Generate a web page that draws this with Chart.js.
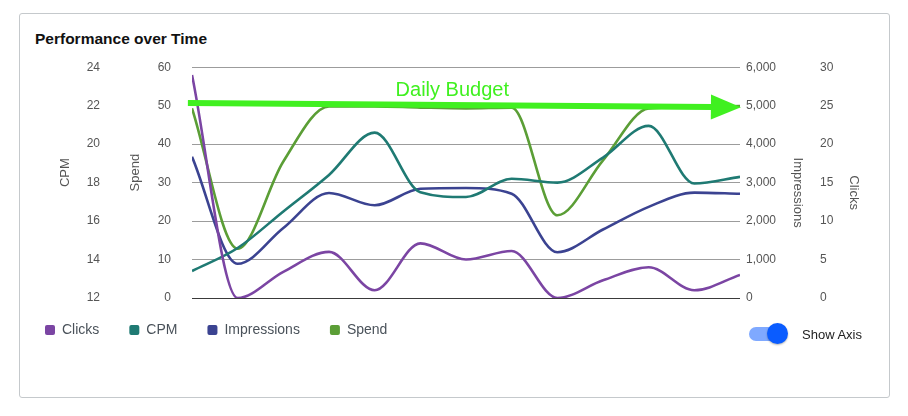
<!DOCTYPE html>
<html><head><meta charset="utf-8">
<script src="https://cdn.jsdelivr.net/npm/chart.js@4.4.1/dist/chart.umd.min.js"></script>
<style>
html,body{margin:0;padding:0;background:#fff;width:908px;height:416px;overflow:hidden;font-family:"Liberation Sans",Arial,sans-serif;}
#card{position:absolute;left:19px;top:13px;border:1px solid #c5c9cc;border-radius:3px;box-sizing:border-box;width:871px;height:385px;}
#title{position:absolute;left:35px;top:29px;font-weight:bold;font-size:15.5px;color:#111;line-height:20px;white-space:nowrap;}
#wrap{position:absolute;left:15px;top:39px;width:865px;height:313px;}
#track{position:absolute;left:749px;top:327px;width:36px;height:14px;border-radius:7px;background:#7fa9ff;}
#knob{position:absolute;left:767px;top:323px;width:21px;height:21px;border-radius:50%;background:#0a5cff;box-shadow:0 1px 2px rgba(0,0,0,0.3);}
#tlabel{position:absolute;left:802px;top:327px;font-size:13px;line-height:16px;color:#222;white-space:nowrap;}
</style></head>
<body>
<div id="card"></div>
<div id="title">Performance over Time</div>
<div id="wrap"><canvas id="c"></canvas></div>
<div id="track"></div><div id="knob"></div>
<div id="tlabel">Show Axis</div>
<script>
const days = [15.5,16.5,17.5,18.5,19.5,20.5,21.5,22.5,23.5,24.5,25.5,26.5,27.5];
const tickDays = [18,21,24,27];
const tickLabels = ['Aug 18','Aug 21','Aug 24','Aug 27'];
const clicks = [29,0,3.4,6,1,7.1,5,6.1,0,2.3,4,1,3];
const cpm = [13.4,14.6,16.5,18.4,20.6,17.5,17.25,18.2,18.0,19.3,20.95,17.95,18.3];
const impressions = [3670,890,1820,2730,2410,2840,2860,2710,1190,1780,2370,2740,2710];
const spend = [49.3,12.8,35.5,49.8,49.8,49.5,49.3,49.5,21.5,35.8,49.3,49.7,49.9];
const budgetX = [15.41,27.52];
const budgetY = [50.7,49.6];
const budgetText = 'Daily Budget';
const budgetTextPos = [21.2,52.6];

const seriesNames = ['Clicks','CPM','Impressions','Spend'];
const seriesColors = ['#7b45a3','#1f7a73','#3b4391','#5b9e36'];
const seriesAxes = ['clicks','cpm','impressions','spend'];
const seriesData = [clicks,cpm,impressions,spend];

Chart.defaults.font.family = "'Liberation Sans', Arial, sans-serif";
Chart.defaults.font.size = 12;
Chart.defaults.color = '#555';

const titleShift = {cpm:-10, spend:-10, impressions:10, clicks:10};

const budgetPlugin = {
  id:'budget',
  afterLayout(chart){
    chart.legend.top -= 5; chart.legend.bottom -= 5;
    Object.keys(titleShift).forEach(id=>{
      const s = chart.scales[id];
      if (s && !s._shiftPatched) {
        const orig = s.drawTitle.bind(s);
        s.drawTitle = function(){ const c=this.ctx; c.save(); c.translate(0,titleShift[id]); orig(); c.restore(); };
        s._shiftPatched = true;
      }
    });
  },
  afterDatasetsDraw(chart){
    const xs = chart.scales.x, ys = chart.scales.spend, ctx = chart.ctx;
    const x0 = xs.getPixelForValue(budgetX[0]), y0 = ys.getPixelForValue(budgetY[0]);
    const x1 = xs.getPixelForValue(budgetX[1]), y1 = ys.getPixelForValue(budgetY[1]);
    const ang = Math.atan2(y1-y0, x1-x0);
    const hl = 30, hw = 12.5;
    const bx = x1 - hl*Math.cos(ang), by = y1 - hl*Math.sin(ang);
    ctx.save();
    ctx.strokeStyle = '#40f020'; ctx.fillStyle = '#40f020';
    ctx.lineWidth = 6; ctx.lineCap = 'butt';
    ctx.beginPath(); ctx.moveTo(x0,y0); ctx.lineTo(bx+1,by); ctx.stroke();
    ctx.beginPath();
    ctx.moveTo(x1,y1);
    ctx.lineTo(bx + hw*Math.sin(ang), by - hw*Math.cos(ang));
    ctx.lineTo(bx - hw*Math.sin(ang), by + hw*Math.cos(ang));
    ctx.closePath(); ctx.fill();
    ctx.font = "20px 'Liberation Sans', Arial, sans-serif";
    ctx.textAlign = 'center'; ctx.textBaseline = 'alphabetic';
    ctx.fillText(budgetText, xs.getPixelForValue(budgetTextPos[0]), ys.getPixelForValue(budgetTextPos[1]));
    ctx.restore();
  }
};

const titleFont = {size:13};
new Chart(document.getElementById('c'), {
  type:'line',
  data:{
    datasets: seriesNames.map((n,i)=>({
      label:n,
      data: seriesData[i].map((v,j)=>({x:days[j], y:v})),
      yAxisID: seriesAxes[i],
      borderColor: seriesColors[i],
      backgroundColor: seriesColors[i],
      borderWidth:2.6,
      pointRadius:0,
      pointHoverRadius:0,
      cubicInterpolationMode:'monotone',
      fill:false
    }))
  },
  options:{
    responsive:true, maintainAspectRatio:false, animation:false,
    layout:{padding:{top:7,left:0,right:0,bottom:0}},
    plugins:{
      tooltip:{enabled:false},
      legend:{
        position:'bottom', align:'start',
        labels:{
          font:{size:14}, color:'#4a525a', boxWidth:10, boxHeight:10, padding:30,
          useBorderRadius:true, borderRadius:2,
          generateLabels:(chart)=>Chart.defaults.plugins.legend.labels.generateLabels(chart).map(l=>Object.assign(l,{lineWidth:0,borderRadius:2}))
        }
      }
    },
    scales:{
      x:{
        type:'linear', min:days[0], max:days[days.length-1],
        grid:{display:false, drawTicks:false}, border:{display:false},
        ticks:{padding:3, autoSkip:false, maxRotation:0, color:'#555',
          callback:(v)=>{const k=tickDays.indexOf(v); return k>=0?tickLabels[k]:'';}},
        afterBuildTicks:(s)=>{ s.ticks = tickDays.map(v=>({value:v})); },
        afterFit:(s)=>{ s.height = 0; }
      },
      spend:{
        type:'linear', position:'left', weight:0, min:0, max:60,
        ticks:{stepSize:10, padding:21},
        grid:{drawTicks:false, color:(c)=>c.tick && c.tick.value===0 ? '#3a3a3a' : '#9c9c9c'},
        border:{display:false},
        title:{display:true, text:'Spend', font:titleFont, padding:{top:18,bottom:0}},
        afterFit:(s)=>{ s.width = 82; }
      },
      cpm:{
        type:'linear', position:'left', weight:1, min:12, max:24,
        ticks:{stepSize:2, padding:10},
        grid:{display:false, drawTicks:false}, border:{display:false},
        title:{display:true, text:'CPM', font:titleFont, padding:{top:43,bottom:0}},
        afterFit:(s)=>{ s.width = 95; }
      },
      impressions:{
        type:'linear', position:'right', weight:0, min:0, max:6000,
        ticks:{stepSize:1000, padding:6, callback:(v)=>Number(v).toLocaleString('en-US')},
        grid:{display:false, drawTicks:false}, border:{display:false},
        title:{display:true, text:'Impressions', font:titleFont, padding:{top:10,bottom:0}},
        afterFit:(s)=>{ s.width = 75; }
      },
      clicks:{
        type:'linear', position:'right', weight:1, min:0, max:30,
        ticks:{stepSize:5, padding:5},
        grid:{display:false, drawTicks:false}, border:{display:false},
        title:{display:true, text:'Clicks', font:titleFont, padding:{top:19,bottom:0}},
        afterFit:(s)=>{ s.width = 65; }
      }
    }
  },
  plugins:[budgetPlugin]
});
</script>
</body></html>
